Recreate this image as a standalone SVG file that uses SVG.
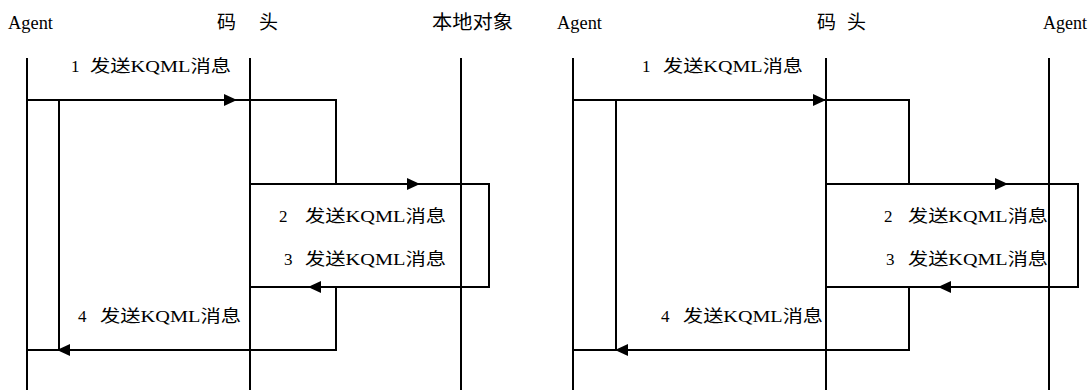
<svg xmlns="http://www.w3.org/2000/svg" width="1088" height="390" viewBox="0 0 1088 390">
<style>
.life{stroke:#000;stroke-width:2;fill:none}
.msg{stroke:#000;stroke-width:2;fill:none}
.ah{fill:#000;stroke:none}
.hdr{font-family:"Liberation Serif","Noto Sans CJK SC",serif;font-size:18px;fill:#000}
.cjk{font-family:"Noto Sans CJK SC","Liberation Sans",sans-serif;font-size:19px;fill:#000}
.lbl{font-family:"Liberation Serif","Noto Sans CJK SC",serif;font-size:17px;fill:#000}
</style>
<rect width="1088" height="390" fill="#fff"/>
<!-- Left diagram -->
<g id="agent-left">
<text class="hdr" x="8" y="29" textLength="45" lengthAdjust="spacingAndGlyphs">Agent</text>
<line class="life" x1="27" y1="58" x2="27" y2="390"/>
</g>
<g id="dock-left">
<text class="cjk" y="29"><tspan x="217">码 </tspan><tspan x="259">头</tspan></text>
<line class="life" x1="250" y1="58" x2="250" y2="390"/>
</g>
<g id="local-object">
<text class="cjk" x="432" y="29" textLength="81" lengthAdjust="spacingAndGlyphs">本地对象</text>
<line class="life" x1="461" y1="58" x2="461" y2="390"/>
</g>
<!-- Right diagram -->
<g id="agent-right-1">
<text class="hdr" x="557" y="29" textLength="45" lengthAdjust="spacingAndGlyphs">Agent</text>
<line class="life" x1="573" y1="58" x2="573" y2="390"/>
</g>
<g id="dock-right">
<text class="cjk" y="29"><tspan x="817">码 </tspan><tspan x="847">头</tspan></text>
<line class="life" x1="826" y1="58" x2="826" y2="390"/>
</g>
<g id="agent-right-2">
<text class="hdr" x="1043" y="29" textLength="44" lengthAdjust="spacingAndGlyphs">Agent</text>
<line class="life" x1="1049" y1="58" x2="1049" y2="390"/>
</g>
<g id="connectors">
<path class="msg" d="M27,100 H336 V184 M250,184 H489 V287 H250 M336,287 V350 H27 M59,100 V350"/>
<path class="msg" d="M573,100 H909 V184 M826,184 H1078 V287 H826 M909,287 V350 H573 M616,100 V350"/>
<polygon class="ah" points="237,100 224,94 224,106"/>
<polygon class="ah" points="420,184 407,178 407,190"/>
<polygon class="ah" points="308,287 321,281 321,293"/>
<polygon class="ah" points="57,350 70,344 70,356"/>
<polygon class="ah" points="826,100 813,94 813,106"/>
<polygon class="ah" points="1008,184 995,178 995,190"/>
<polygon class="ah" points="938,287 951,281 951,293"/>
<polygon class="ah" points="615,350 628,344 628,356"/>
<text class="lbl" y="72"><tspan x="71">1 </tspan><tspan x="90" textLength="141" lengthAdjust="spacingAndGlyphs">发送KQML消息</tspan></text>
<text class="lbl" y="222"><tspan x="279">2 </tspan><tspan x="305" textLength="141" lengthAdjust="spacingAndGlyphs">发送KQML消息</tspan></text>
<text class="lbl" y="265"><tspan x="284">3 </tspan><tspan x="305" textLength="141" lengthAdjust="spacingAndGlyphs">发送KQML消息</tspan></text>
<text class="lbl" y="322"><tspan x="78">4 </tspan><tspan x="100" textLength="141" lengthAdjust="spacingAndGlyphs">发送KQML消息</tspan></text>
<text class="lbl" y="72"><tspan x="642">1 </tspan><tspan x="663" textLength="140" lengthAdjust="spacingAndGlyphs">发送KQML消息</tspan></text>
<text class="lbl" y="222"><tspan x="884">2 </tspan><tspan x="908" textLength="140" lengthAdjust="spacingAndGlyphs">发送KQML消息</tspan></text>
<text class="lbl" y="265"><tspan x="886">3 </tspan><tspan x="908" textLength="140" lengthAdjust="spacingAndGlyphs">发送KQML消息</tspan></text>
<text class="lbl" y="322"><tspan x="661">4 </tspan><tspan x="683" textLength="140" lengthAdjust="spacingAndGlyphs">发送KQML消息</tspan></text>
</g>
</svg>
